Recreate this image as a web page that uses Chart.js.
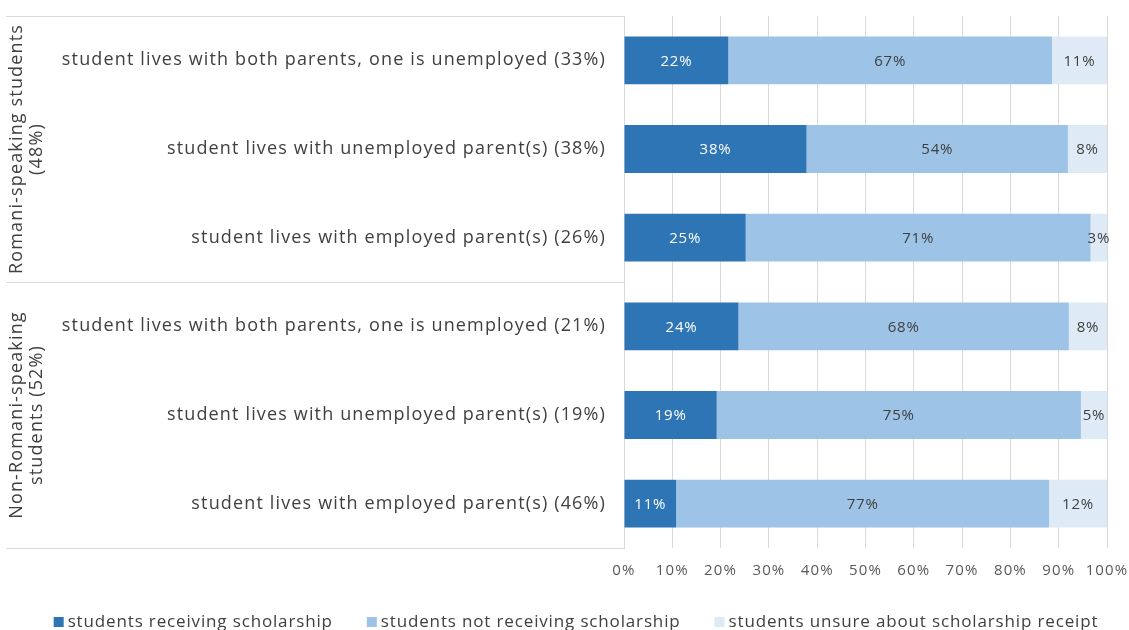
<!DOCTYPE html>
<html>
<head>
<meta charset="utf-8">
<script src="https://cdn.jsdelivr.net/npm/chart.js@4"></script>
<style>
  html, body { margin: 0; padding: 0; background: #fff; overflow: hidden; }
  #wrap { width: 1129px; height: 630px; position: relative; }
</style>
</head>
<body>
<div id="wrap"><canvas id="chart"></canvas></div>
<script>
const categories = [
  'student lives with both parents, one is unemployed (33%)',
  'student lives with unemployed parent(s) (38%)',
  'student lives with employed parent(s) (26%)',
  'student lives with both parents, one is unemployed (21%)',
  'student lives with unemployed parent(s) (19%)',
  'student lives with employed parent(s) (46%)'
];
const groupLabels = [
  ['Romani-speaking students', '(48%)'],
  ['Non-Romani-speaking', 'students (52%)']
];
const groupSizes = [3, 3];

const receiving = [21.6, 37.8, 25.2, 23.7, 19.2, 10.8];
const notReceiving = [67.0, 54.1, 71.4, 68.4, 75.4, 77.2];
const unsure = [11.4, 8.1, 3.4, 7.9, 5.4, 12.0];

const seriesNames = [
  'students receiving scholarship',
  'students not receiving scholarship',
  'students unsure about scholarship receipt'
];
const xTicks = [0, 10, 20, 30, 40, 50, 60, 70, 80, 90, 100];

const FONT = '"Open Sans", sans-serif';
const TEXT = '#404040';
const LINE = '#d9d9d9';

// wider tracking for all canvas text (context state resets on resize)
const tracking = {
  id: 'tracking',
  beforeLayout(chart) { chart.ctx.letterSpacing = '1.15px'; },
  beforeDraw(chart) { chart.ctx.letterSpacing = '1.15px'; }
};

// value labels inside each bar segment
const segmentLabels = {
  id: 'segmentLabels',
  afterDatasetsDraw(chart) {
    const ctx = chart.ctx;
    ctx.save();
    ctx.letterSpacing = '0.8px';
    ctx.font = '15px ' + FONT;
    ctx.textAlign = 'center';
    ctx.textBaseline = 'middle';
    chart.data.datasets.forEach((ds, i) => {
      const meta = chart.getDatasetMeta(i);
      meta.data.forEach((bar, j) => {
        const p = bar.getProps(['x', 'y', 'base'], true);
        ctx.fillStyle = i === 0 ? '#ffffff' : TEXT;
        ctx.fillText(Math.round(ds.data[j]) + '%', (p.x + p.base) / 2, p.y + 1);
      });
    });
    ctx.restore();
  }
};

// group box lines and rotated group titles left of the category labels
const groupAxis = {
  id: 'groupAxis',
  afterDraw(chart) {
    const ctx = chart.ctx;
    const y = chart.scales.y;
    const area = chart.chartArea;
    const band = y.getPixelForValue(1) - y.getPixelForValue(0);
    ctx.save();
    ctx.strokeStyle = LINE;
    ctx.lineWidth = 1;
    let start = 0;
    const edges = [y.getPixelForValue(0) - band / 2];
    groupSizes.forEach(n => {
      edges.push(y.getPixelForValue(start + n - 1) + band / 2);
      start += n;
    });
    edges.forEach(e => {
      const yy = Math.round(e) + 0.5;
      ctx.beginPath();
      ctx.moveTo(6, yy);
      ctx.lineTo(area.left, yy);
      ctx.stroke();
    });
    ctx.fillStyle = TEXT;
    ctx.font = '18px ' + FONT;
    ctx.textAlign = 'center';
    ctx.textBaseline = 'middle';
    groupLabels.forEach((lines, g) => {
      const mid = (edges[g] + edges[g + 1]) / 2;
      ctx.save();
      ctx.translate(27, mid);
      ctx.rotate(-Math.PI / 2);
      lines.forEach((t, k) => ctx.fillText(t, 0, (k - (lines.length - 1) / 2) * 20));
      ctx.restore();
    });
    ctx.restore();
  }
};

// legend row along the bottom edge
const bottomLegend = {
  id: 'bottomLegend',
  afterDraw(chart) {
    const ctx = chart.ctx;
    ctx.save();
    ctx.letterSpacing = '0.85px';
    ctx.font = '17px ' + FONT;
    ctx.textBaseline = 'middle';
    const box = 10, gapBox = 4, gapItem = 34;
    const items = chart.data.datasets.map(ds => ({
      label: ds.label, color: ds.backgroundColor, w: ctx.measureText(ds.label).width
    }));
    const total = items.reduce((s, it) => s + box + gapBox + it.w, 0) + gapItem * (items.length - 1);
    let x = 576 - total / 2;
    const yc = 622;
    items.forEach(it => {
      ctx.fillStyle = it.color;
      ctx.fillRect(x, yc - box / 2, box, box);
      ctx.fillStyle = TEXT;
      ctx.fillText(it.label, x + box + gapBox, yc);
      x += box + gapBox + it.w + gapItem;
    });
    ctx.restore();
  }
};

new Chart(document.getElementById('chart'), {
  type: 'bar',
  data: {
    labels: categories,
    datasets: [
      { label: seriesNames[0], data: receiving, backgroundColor: '#2e75b6' },
      { label: seriesNames[1], data: notReceiving, backgroundColor: '#9dc3e6' },
      { label: seriesNames[2], data: unsure, backgroundColor: '#deebf7' }
    ]
  },
  options: {
    indexAxis: 'y',
    responsive: true,
    maintainAspectRatio: false,
    animation: false,
    layout: { padding: { top: 16, right: 22, bottom: 42, left: 0 } },
    datasets: { bar: { barPercentage: 1, categoryPercentage: 0.54 } },
    plugins: {
      legend: { display: false },
      tooltip: { enabled: false }
    },
    scales: {
      x: {
        stacked: true,
        min: 0,
        max: 100,
        afterBuildTicks(scale) { scale.ticks = xTicks.map(v => ({ value: v })); },
        afterFit(scale) {
          scale.height = 40;
          scale.paddingLeft = 0;
          scale.paddingRight = 0;
        },
        grid: { color: LINE, drawTicks: false },
        border: { display: false },
        ticks: {
          padding: 14,
          color: '#595959',
          font: { family: FONT, size: 15 },
          autoSkip: false,
          minRotation: 0,
          maxRotation: 0,
          callback: v => v + '%'
        }
      },
      y: {
        stacked: true,
        afterFit(scale) {
          scale.width = 624;
          scale.paddingTop = 0;
          scale.paddingBottom = 0;
        },
        grid: { display: false, drawTicks: false },
        border: { display: true, color: LINE },
        ticks: {
          padding: 18,
          color: TEXT,
          font: { family: FONT, size: 18 }
        }
      }
    }
  },
  plugins: [tracking, segmentLabels, groupAxis, bottomLegend]
});
</script>
</body>
</html>
